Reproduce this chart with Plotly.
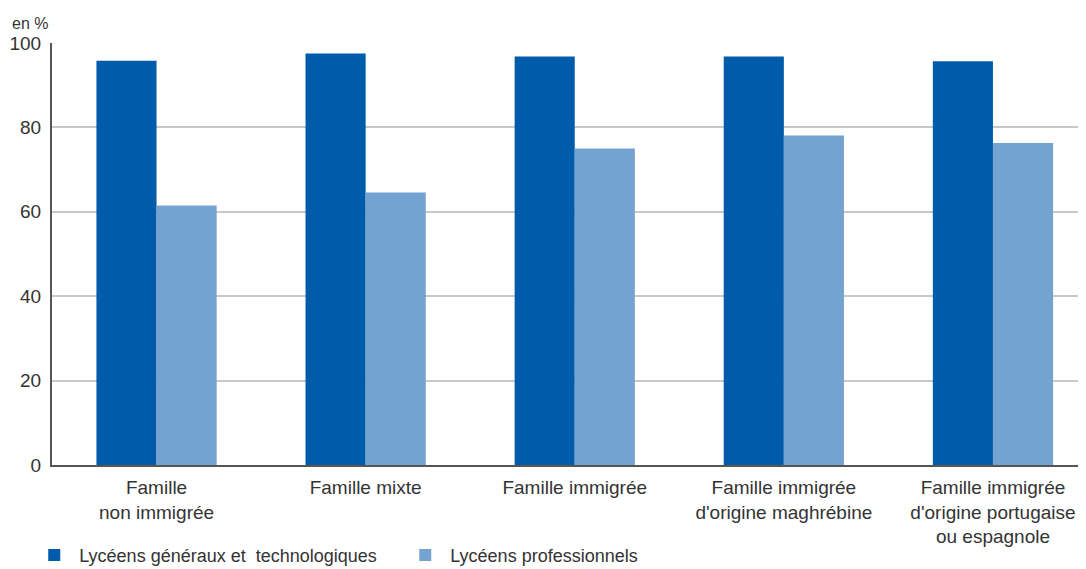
import plotly.graph_objects as go

categories = ["Famille<br>non immigrée", "Famille mixte", "Famille immigrée",
              "Famille immigrée<br>d'origine maghrébine",
              "Famille immigrée<br>d'origine portugaise<br>ou espagnole"]
series_names = ["Lycéens généraux et  technologiques", "Lycéens professionnels"]
gen_tech = [95.8, 97.5, 96.8, 96.8, 95.7]
pro = [61.5, 64.6, 75.0, 78.1, 76.3]
y_ticks = [0, 20, 40, 60, 80, 100]

dark = "#005BAA"
light = "#74A3D1"
font_family = "Liberation Sans Narrow, Arial Narrow, Liberation Sans, sans-serif"

fig = go.Figure()
fig.add_trace(go.Bar(x=categories, y=gen_tech, name=series_names[0],
                     marker=dict(color=dark, line=dict(width=0))))
fig.add_trace(go.Bar(x=categories, y=pro, name=series_names[1],
                     marker=dict(color=light, line=dict(width=0))))

fig.update_layout(
    width=1078, height=561,
    margin=dict(l=44, r=0, t=35, b=104, autoexpand=False),
    paper_bgcolor="white", plot_bgcolor="white",
    barmode="group", bargap=0.425, bargroupgap=0,
    font=dict(family=font_family, size=18, color="#333333"),
    showlegend=True,
    legend=dict(orientation="h", x=-0.022, y=-0.214, xanchor="left", yanchor="middle",
                font=dict(size=18), entrywidth=316, itemwidth=40,
                traceorder="normal"),
    xaxis=dict(range=[-0.5, 4.445], showline=True, linecolor="#555555", linewidth=2,
               ticks="", tickfont=dict(size=19), showgrid=False, automargin=False,
               ticklabelstandoff=4),
    yaxis=dict(range=[0, 100], tickvals=y_ticks, showline=True, linecolor="#555555",
               linewidth=2, showgrid=True, gridcolor="#C8C8C8", gridwidth=2,
               ticks="", tickfont=dict(size=19), zeroline=False, ticklabelstandoff=5,
               automargin=False),
    annotations=[dict(text="en %", xref="paper", yref="paper", x=-0.041, y=1.022,
                      xanchor="left", yanchor="bottom", showarrow=False,
                      font=dict(size=16, color="#333333"))],
)

fig.write_html("out.html")
